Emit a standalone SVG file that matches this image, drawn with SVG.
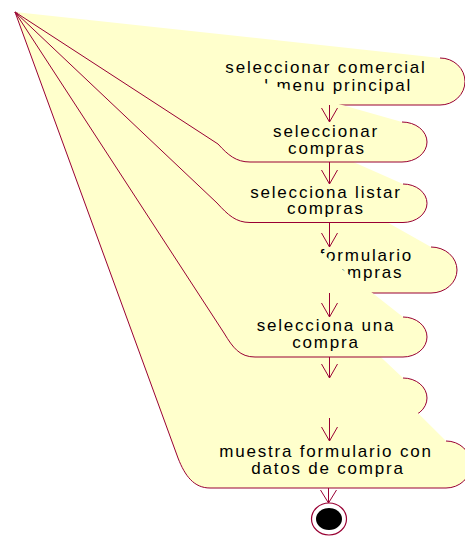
<svg xmlns="http://www.w3.org/2000/svg" width="465" height="536" viewBox="0 0 465 536">
<style>
.fill{fill:#FFFFCC;stroke:none}
.edge{fill:none;stroke:#990033;stroke-width:1}
.lbl{font-family:"Liberation Sans",Arial,sans-serif;font-size:17px;letter-spacing:1.8px;fill:#000;text-anchor:middle}
.conn{fill:none;stroke:#990033;stroke-width:1}
</style>
<rect width="465" height="536" fill="#FFFFFF"/>
<g id="node6">
<path class="fill" d="M15,12 L403,378 A24,20 0 0 1 403,418 L253,418 C238,418 230,410 222,398 L15,12 Z"/>
<path class="edge" d="M403,378 A24,20 0 0 1 403,418 L253,418 C238,418 230,410 222,398 L15,12"/>
</g>
<g id="node7">
<path class="fill" d="M15,12 L446,441 A25,23.5 0 0 1 446,488 L210,488 C194,488 185,476 178,458 L15,12 Z"/>
<path class="edge" d="M446,441 A25,23.5 0 0 1 446,488 L210,488 C194,488 185,476 178,458 L15,12"/>
<text class="lbl" x="326" y="457">muestra formulario con</text>
<text class="lbl" x="328" y="473.5">datos de compra</text>
</g>
<g id="node4">
<path class="fill" d="M15,12 L431,247 A26,23 0 0 1 431,293 L232,293 C218,293 211,285 203,274 L15,12 Z"/>
<path class="edge" d="M431,247 A26,23 0 0 1 431,293 L232,293 C218,293 211,285 203,274 L15,12"/>
<text class="lbl" x="326" y="261">muestra formulario</text>
<text class="lbl" x="327" y="278">lista de compras</text>
</g>
<g id="node5">
<path class="fill" d="M15,12 L403,317 A24,20 0 0 1 403,357 L255,357 C240,357 233,348 224,333 L15,12 Z"/>
<path class="edge" d="M403,317 A24,20 0 0 1 403,357 L255,357 C240,357 233,348 224,333 L15,12"/>
<text class="lbl" x="326" y="331">selecciona una</text>
<text class="lbl" x="326" y="347.5">compra</text>
</g>
<g id="node3">
<path class="fill" d="M15,12 L403,184 A24,19.25 0 0 1 403,222.5 L250,222.5 C236,222.5 228,215 217,203 L15,12 Z"/>
<path class="edge" d="M403,184 A24,19.25 0 0 1 403,222.5 L250,222.5 C236,222.5 228,215 217,203 L15,12"/>
<text class="lbl" x="326" y="197.5">selecciona listar</text>
<text class="lbl" x="326" y="214">compras</text>
</g>
<g id="node1">
<path class="fill" d="M15,12 L440,58 A25,23.5 0 0 1 440,105 L218,105 C205,105 198,100 190,92 L15,12 Z"/>
<path class="edge" d="M440,58 A25,23.5 0 0 1 440,105 L218,105 C205,105 198,100 190,92 L15,12"/>
<text class="lbl" x="326" y="73">seleccionar comercial</text>
<text class="lbl" x="327" y="91">del menu principal</text>
</g>
<g id="node2">
<path class="fill" d="M15,12 L402,122 A25,20 0 0 1 402,162 L250,162 C236,162 228,155 218,144 L15,12 Z"/>
<path class="edge" d="M402,122 A25,20 0 0 1 402,162 L250,162 C236,162 228,155 218,144 L15,12"/>
<text class="lbl" x="326" y="137">seleccionar</text>
<text class="lbl" x="327" y="153.5">compras</text>
</g>
<g id="final">
<ellipse cx="329" cy="519" rx="17.5" ry="16" fill="#FFFFFF" stroke="#990033" stroke-width="1.2"/>
<ellipse cx="329" cy="519" rx="13" ry="11" fill="#000000"/>
</g>
<g id="connectors">
<path class="conn" d="M329.5,105 V122 M321.5,108 L329.5,122 L337.5,108"/>
<path class="conn" d="M329.5,162 V184 M321.5,170 L329.5,184 L337.5,170"/>
<path class="conn" d="M329.5,222.5 V247 M321.5,233 L329.5,247 L337.5,233"/>
<path class="conn" d="M329.5,293 V317 M321.5,303 L329.5,317 L337.5,303"/>
<path class="conn" d="M329.5,357 V378 M321.5,364 L329.5,378 L337.5,364"/>
<path class="conn" d="M329.5,418 V441 M321.5,427 L329.5,441 L337.5,427"/>
<path class="conn" d="M328.5,488 V503 M320.5,490 L328.5,503 L336.5,490"/>
</g>
</svg>
